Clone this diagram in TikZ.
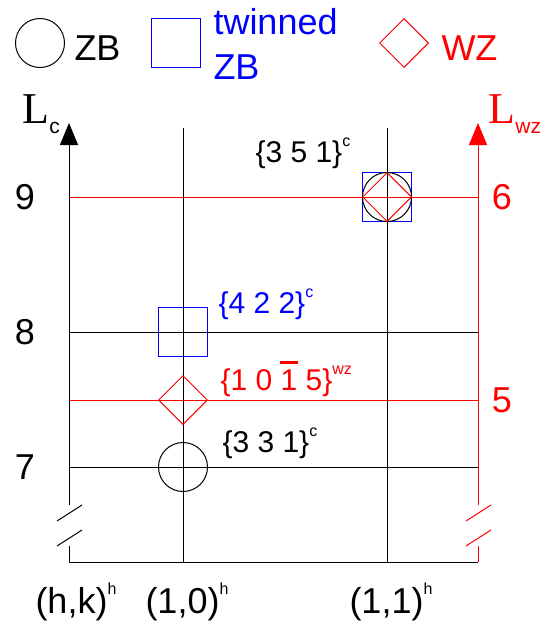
\documentclass[tikz,border=0pt]{standalone}
\usepackage{fontspec}
\setmainfont{Liberation Sans}
\newfontfamily\lfont{Liberation Serif}
\usepackage{graphicx}
\usepackage{tikz}
\usetikzlibrary{arrows.meta, shapes.geometric}

\newcommand{\supr}[1]{\raisebox{0.52em}{\fontsize{16}{16}\selectfont #1}}
\newcommand{\subl}[1]{\raisebox{-0.23em}{\rmfamily\fontsize{21}{21}\selectfont #1}}
\newcommand{\barred}[1]{\ooalign{#1\cr\hidewidth\rule[0.88em]{0.62em}{0.09em}\hidewidth\cr}}

\tikzset{
  zb/.style={circle, draw, minimum size=49pt},
  twin/.style={rectangle, draw=blue, minimum size=49pt},
  wz/.style={diamond, draw=red, minimum size=49pt},
  big/.style={font=\fontsize{36}{43}\selectfont},
  lab/.style={font=\fontsize{30}{36}\selectfont, anchor=base west},
  axtip/.style={-{Triangle[length=22pt,width=18pt]}}
}

\begin{document}
\begin{tikzpicture}[x=1pt, y=-1pt, line width=1pt, every node/.style={inner sep=0pt}]
  \useasboundingbox (0,0) rectangle (552,621);
  % legend
  \node[zb] (kzb) at (40,43) {};
  \node[big, anchor=base west] (tzb) at (74,60) {ZB};
  \node[twin] (ktw) at (176,43) {};
  \node[big, blue, anchor=base west] (ttw1) at (213,34) {twinned};
  \node[big, blue, anchor=base west] (ttw2) at (213,79) {ZB};
  \node[wz] (kwz) at (404,43) {};
  \node[big, red, anchor=base west] (twz) at (441,60) {WZ};
  % levels
  \draw[red] (69,197) -- (478,197);
  \draw (69,332) -- (478,332);
  \draw[red] (69,400) -- (478,400);
  \draw (69,467) -- (478,467);
  \draw (183,128) -- (183,562);
  \draw (387,128) -- (387,562);
  \draw (69,562) -- (478,562);
  % axes with breaks
  \draw[axtip] (69,505) -- (69,123);
  \draw (69,546) -- (69,562);
  \draw[red, axtip] (478,505) -- (478,123);
  \draw[red] (478,546) -- (478,562);
  \foreach \y in {521,546} \draw (57,\y) -- ++(25,-16);
  \foreach \y in {521,546} \draw[red] (466,\y) -- ++(25,-16);
  % axis labels
  \node[anchor=base west] (lc) at (22,123) {\fontsize{44}{50}\lfont L\subl{c}};
  \node[red, anchor=base west] (lwz) at (488,123) {\fontsize{44}{50}\lfont L\subl{wz}};
  \node[big] (n9) at (25,197) {9};
  \node[big] (n8) at (25,332) {8};
  \node[big] (n7) at (25,467) {7};
  \node[big, red] (n6) at (502,197) {6};
  \node[big, red] (n5) at (502,400) {5};
  \node[big, anchor=base west] (hk) at (35,613) {(h,k)\supr{h}};
  \node[big, anchor=base west] (h10) at (145,613) {(1,0)\supr{h}};
  \node[big, anchor=base west] (h11) at (349,613) {(1,1)\supr{h}};
  % reflections
  \node[zb] (c331) at (183,467) {};
  \node[wz] (w1015) at (183,400) {};
  \node[twin] (t422) at (183,332) {};
  \node[twin] (t351) at (387,197) {};
  \node[zb] (c351) at (387,197) {};
  \node[wz] (w351) at (387,197) {};
  \node[lab] (l351) at (255,162) {\{3 5 1\}\supr{c}};
  \node[lab, blue] (l422) at (218,313) {\{4 2 2\}\supr{c}};
  \node[lab, red] (l1015) at (220,390) {\{1 0 \barred{1} 5\}\supr{wz}};
  \node[lab] (l331) at (222,452) {\{3 3 1\}\supr{c}};
\end{tikzpicture}
\end{document}
